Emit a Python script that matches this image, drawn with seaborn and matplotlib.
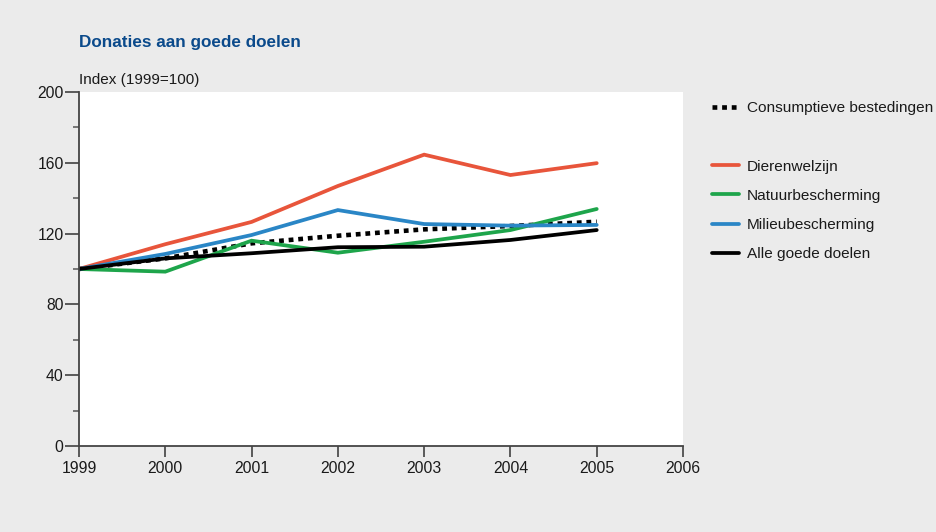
import matplotlib
matplotlib.use("Agg")
import matplotlib.pyplot as plt
from matplotlib.lines import Line2D
from matplotlib.ticker import MultipleLocator
import seaborn as sns
import pandas as pd

# Index figures, 1999 = 100
years = [1999, 2000, 2001, 2002, 2003, 2004, 2005]
consumptief = [100, 106, 114.5, 118.8, 122.4, 124.3, 126.7]
dierenwelzijn = [100, 114, 126.6, 146.9, 164.6, 153.1, 159.8]
natuurbescherming = [100, 98.5, 116, 109.2, 115.4, 122, 133.9]
milieubescherming = [100, 108.5, 119.2, 133.3, 125.4, 124.5, 124.9]
alle_doelen = [100, 106, 108.9, 112.3, 112.6, 116.4, 122]

series_names = ["Consumptieve bestedingen", "Dierenwelzijn", "Natuurbescherming",
                "Milieubescherming", "Alle goede doelen"]
series_values = [consumptief, dierenwelzijn, natuurbescherming, milieubescherming, alle_doelen]
colors = ["#000000", "#e8553b", "#1ea54b", "#2a86c6", "#000000"]

y_ticks = [0, 40, 80, 120, 160, 200]
x_ticks = [1999, 2000, 2001, 2002, 2003, 2004, 2005, 2006]

sns.set_theme(style="white")
plt.rcParams["font.family"] = ["Liberation Sans", "DejaVu Sans"]

bg = "#ebebeb"
fig = plt.figure(figsize=(9.37, 5.32), dpi=100, facecolor=bg)
ax = fig.add_axes([79 / 937, 86 / 532, 604 / 937, 354 / 532])
ax.set_facecolor("white")

frames = []
for name, vals in zip(series_names, series_values):
    frames.append(pd.DataFrame({"jaar": years, "index": vals, "reeks": name}))
df = pd.concat(frames, ignore_index=True)

lw = 2.7
handles = []
for name, col in zip(series_names, colors):
    sub = df[df["reeks"] == name]
    sns.lineplot(data=sub, x="jaar", y="index", color=col, lw=lw, ax=ax,
                 legend=False, solid_joinstyle="miter")
    line = ax.lines[-1]
    if name == "Consumptieve bestedingen":
        line.set_linewidth(3.3)
        line.set_dashes([1.05, 1.05])
        line.set_dash_capstyle("butt")
    handles.append(line)

ax.set_xlim(1999, 2006)
ax.set_ylim(0, 200)
ax.set_xticks(x_ticks)
ax.set_xticklabels([str(x) for x in x_ticks])
ax.set_yticks(y_ticks)
ax.yaxis.set_minor_locator(MultipleLocator(20))
ax.set_xlabel("")
ax.set_ylabel("")

for s in ["top", "right"]:
    ax.spines[s].set_visible(False)
for s in ["left", "bottom"]:
    ax.spines[s].set_color("#444444")
    ax.spines[s].set_linewidth(1.3)

tick_fs = 11.3
ax.tick_params(axis="y", which="major", direction="out", length=10, width=1.1,
               color="#333333", labelsize=tick_fs, labelcolor="#1a1a1a", pad=1, left=True)
ax.tick_params(axis="y", which="minor", direction="out", length=4, width=1.1,
               color="#555555", left=True)
ax.tick_params(axis="x", which="major", direction="out", length=8, width=1.1,
               color="#333333", labelsize=tick_fs, labelcolor="#1a1a1a", pad=3, bottom=True)

fig.text(79 / 937, 1 - 42 / 532, "Donaties aan goede doelen", fontsize=12.3,
         fontweight="bold", color="#0b4a8b", va="center", ha="left")
fig.text(79 / 937, 1 - 80 / 532, "Index (1999=100)", fontsize=11,
         color="#1a1a1a", va="center", ha="left")

blank = Line2D([], [], color="none")
leg_handles = [handles[0], blank] + handles[1:]
leg_labels = [series_names[0], ""] + series_names[1:]
leg = fig.legend(leg_handles, leg_labels, loc="upper left",
                 bbox_to_anchor=(712 / 937, 1 - 101 / 532), frameon=False,
                 fontsize=11.1, handlelength=1.75, handletextpad=0.5,
                 labelspacing=0.99, borderaxespad=0, borderpad=0)
for t in leg.get_texts():
    t.set_color("#1a1a1a")

fig.savefig("out.png", dpi=100, facecolor=bg)
